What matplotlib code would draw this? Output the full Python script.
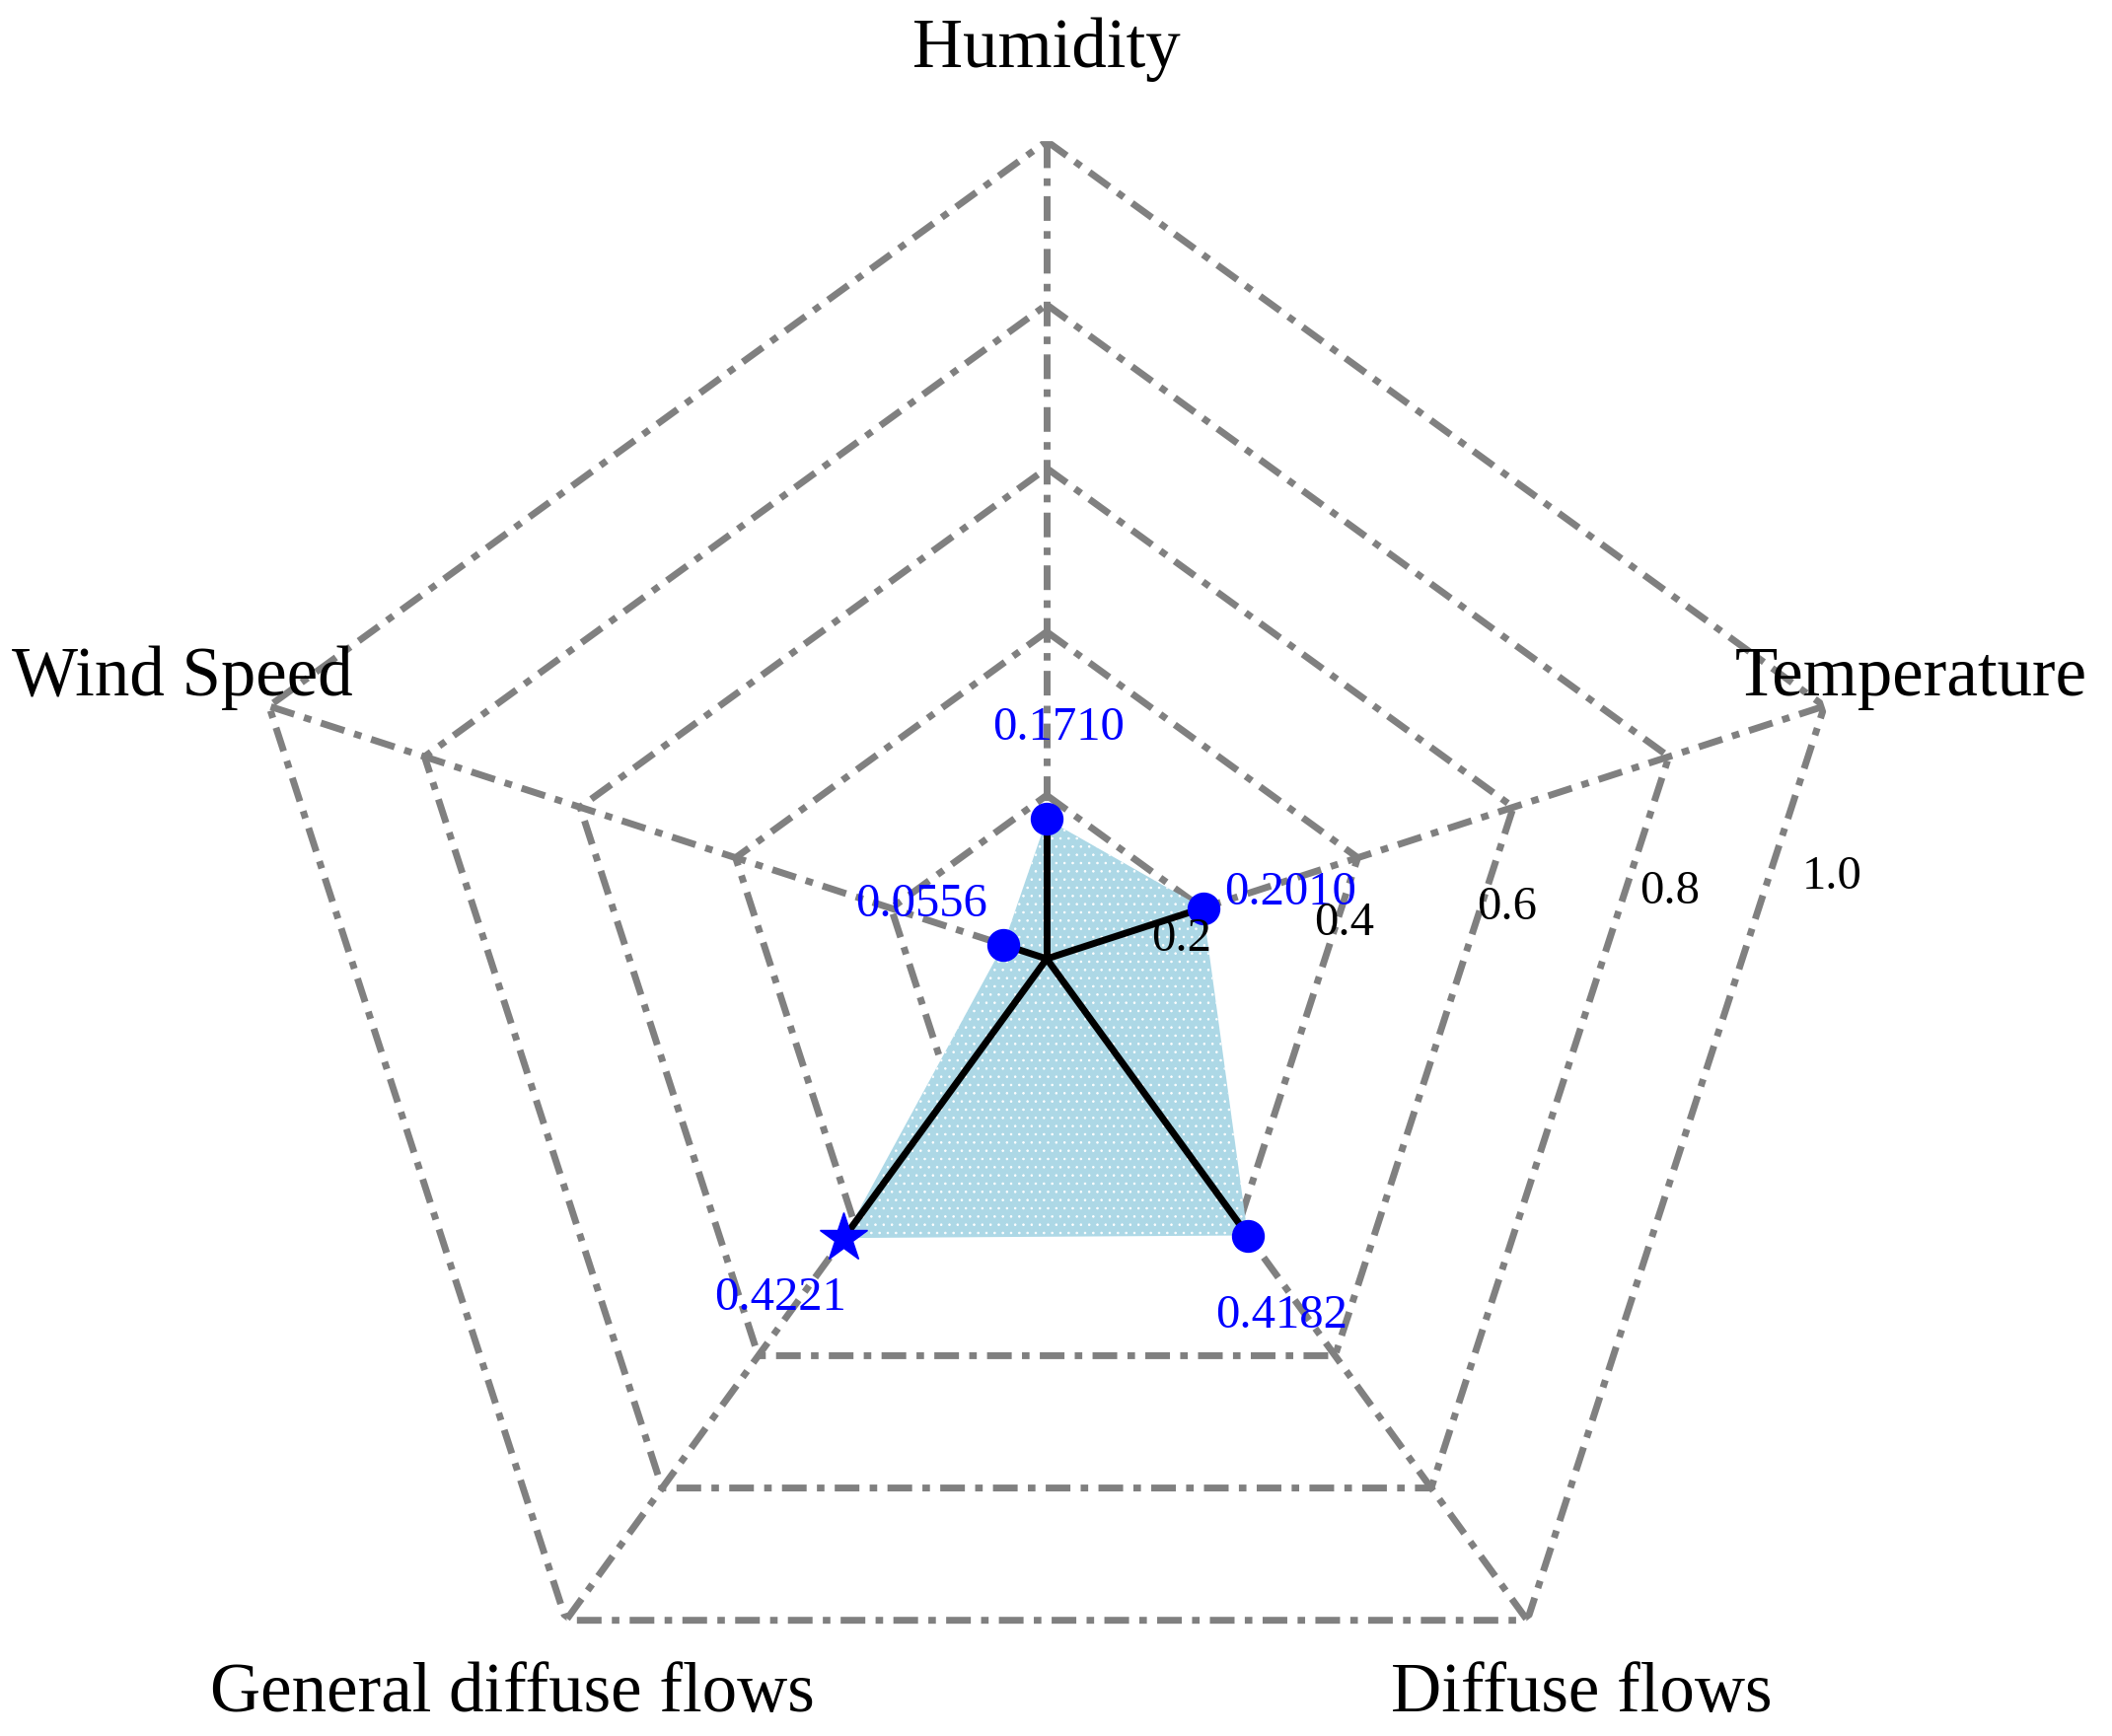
import numpy as np
import matplotlib
matplotlib.use("Agg")
from matplotlib import pyplot as plt

plt.rcParams["font.family"] = ["Liberation Serif", "DejaVu Serif"]
plt.rcParams["hatch.linewidth"] = 0.6

categories = ["Humidity", "Temperature", "Diffuse flows", "General diffuse flows", "Wind Speed"]
values = [0.1710, 0.2010, 0.4182, 0.4221, 0.0556]
ticks = [0.2, 0.4, 0.6, 0.8, 1.0]
tick_labels = ["0.2", "0.4", "0.6", "0.8", "1.0"]
# value label offsets in pixels (dx, dy)
label_offsets = [(12, 92), (89, 16), (34, -81), (-64, -61), (-83, 41)]

n = len(categories)
angles = np.linspace(0, 2 * np.pi, n, endpoint=False)
best = int(np.argmax(values))

fig = plt.figure(figsize=(21.41, 17.6), dpi=100)
ax = fig.add_axes([0.1084, -0.0233, 0.7744, 0.942], projection="polar")
ax.set_theta_offset(np.pi / 2)
ax.set_theta_direction(-1)
ax.set_ylim(0, 1)
ax.grid(False)
ax.spines["polar"].set_visible(False)
ax.set_xticks([])
ax.set_yticks([])
ax.patch.set_alpha(0)

gray = "#808080"
dash = (0, (3.6, 1.5, 1.1, 1.5))

# pentagon grid
closed = np.append(angles, angles[0])
for t in ticks:
    ax.plot(closed, [t] * (n + 1), color=gray, lw=5, linestyle=dash, zorder=1)
# spokes
for a in angles:
    ax.plot([a, a], [0, 1], color=gray, lw=5, linestyle=dash, zorder=1)

# filled area
vals_closed = np.append(values, values[0])
ax.fill(closed, vals_closed, facecolor="lightblue", edgecolor="white", lw=0,
        hatch="..", zorder=2)

# black spokes to data points
for a, v in zip(angles, values):
    ax.plot([a, a], [0, v], color="black", lw=5, zorder=3, solid_capstyle="butt")

# markers and value labels
for i, (a, v) in enumerate(zip(angles, values)):
    if i == best:
        ax.plot(a, v, marker="*", color="blue", markersize=37, zorder=4, clip_on=False)
    else:
        ax.plot(a, v, marker="o", color="blue", markersize=23, zorder=4, clip_on=False)
    ax.annotate(f"{v:.4f}", (a, v), xytext=label_offsets[i], textcoords="offset pixels",
                ha="center", va="center", color="blue", fontsize=35, zorder=5)

# category labels
for a, c in zip(angles, categories):
    ax.text(a, 1.112, c, ha="center", va="center", fontsize=51, clip_on=False)

# radial tick labels
rl_angle = np.pi / 2 - np.deg2rad(5.5)
for t, lab in zip(ticks, tick_labels):
    ax.annotate(lab, (rl_angle, t), xytext=(-29, 4), textcoords="offset pixels",
                ha="center", va="center", fontsize=35, zorder=5)

fig.savefig("out.png", dpi=100)
